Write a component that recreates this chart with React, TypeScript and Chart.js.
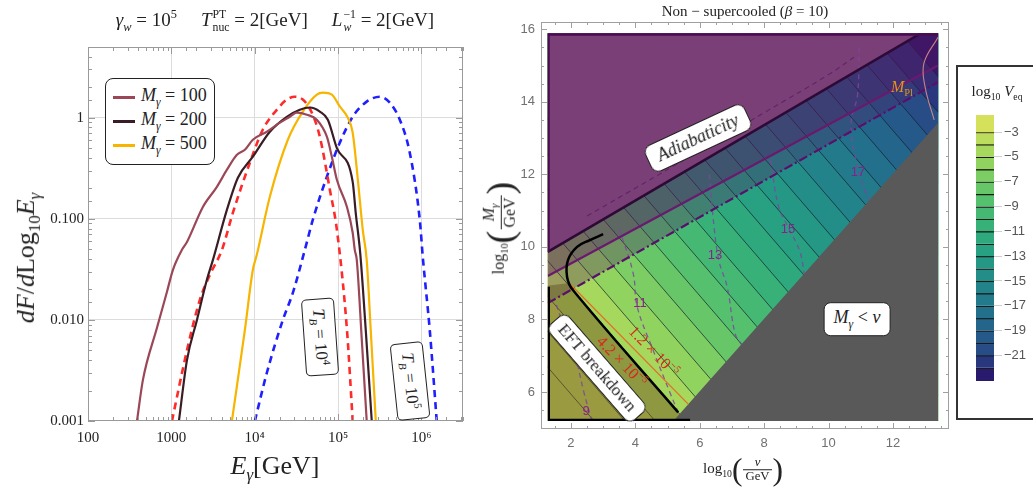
import React, { useEffect, useRef } from "react";
import { Chart, registerables } from "chart.js";

Chart.register(...registerables);

const SERIF = "'Liberation Serif', 'DejaVu Serif', serif";
const SANS = "'Liberation Sans', 'DejaVu Sans', sans-serif";

// ---------------- Left panel: dF/dLog10 E_gamma ----------------
const m100E = [387, 456, 671, 885, 1045, 1340, 1540, 2390, 3520, 4650, 6120, 7630, 9510, 14000, 18450, 26400, 32000, 42300, 55700, 73500, 84300, 96900, 128000, 150000, 159000, 168000, 193000, 221000];
const m100F = [0.001, 0.00255, 0.0083, 0.0189, 0.0313, 0.0493, 0.059, 0.131, 0.207, 0.306, 0.43, 0.482, 0.605, 0.726, 0.853, 1.02, 1.12, 1.07, 0.955, 0.648, 0.411, 0.243, 0.131, 0.0727, 0.049, 0.039, 0.0063, 0.001];

const m200E = [1233, 1540, 2030, 2670, 3150, 4650, 6290, 9510, 15200, 24300, 34800, 45900, 60500, 75500, 96900, 150000, 163000, 185000, 215000, 254000];
const m200F = [0.001, 0.004, 0.01, 0.0249, 0.039, 0.123, 0.255, 0.411, 0.726, 1.02, 1.2, 1.26, 1.15, 0.955, 0.5, 0.232, 0.115, 0.045, 0.008, 0.001];

const m500E = [5330, 7630, 9510, 10600, 15200, 25000, 37800, 55700, 65800, 84300, 105000, 131000, 150000, 173000, 198000, 221000, 247000, 284000];
const m500F = [0.001, 0.00796, 0.0313, 0.044, 0.165, 0.605, 1.15, 1.69, 1.77, 1.69, 1.29, 1.0, 0.71, 0.243, 0.078, 0.039, 0.0079, 0.001];

const tb4E = [1017, 1540, 2200, 2900, 4050, 5480, 8750, 12500, 18500, 24300, 30300, 37800, 48500, 60500, 79800, 96900, 128000, 150000];
const tb4F = [0.001, 0.005, 0.0158, 0.0279, 0.0493, 0.115, 0.358, 0.76, 1.2, 1.51, 1.61, 1.51, 1.12, 0.648, 0.194, 0.078, 0.008, 0.001];

const tb5E = [10050, 14000, 21800, 28700, 40000, 49900, 73500, 105000, 150000, 221000, 317000, 418000, 551000, 726000, 957000, 1040000, 1260000, 1530000];
const tb5F = [0.001, 0.003, 0.01, 0.0185, 0.0493, 0.098, 0.261, 0.565, 1.02, 1.44, 1.61, 1.41, 0.955, 0.45, 0.098, 0.042, 0.008, 0.001];

const xTickExp = [2, 3, 4, 5, 6];
const xTickText = ["100", "1000", "10\u2074", "10\u2075", "10\u2076"];
const yTickExp = [-3, -2, -1, 0];
const yTickText = ["0.001", "0.010", "0.100", "1"];

const legendNames = ["100", "200", "500"];
const colM100 = "#9b4757";
const colM200 = "#3a1d24";
const colM500 = "#f7b500";
const colTB4 = "#ff2a2a";
const colTB5 = "#1f1fff";

// ---------------- Right panel: log10 V_eq contours ----------------
const vRegion = [1.28, 13.4];
const mRegion = [5.2, 15.89];
const contourLevels = [-3, -4, -5, -6, -7, -8, -9, -10, -11, -12, -13, -14, -15, -16, -17, -18, -19, -20, -21, -22];
const contourMAtV0 = [9.95, 10.93, 11.9, 12.88, 13.85, 14.83, 15.8, 16.78, 17.76, 18.73, 19.71, 20.68, 21.66, 22.63, 23.61, 24.59, 25.56, 26.54, 27.51, 28.49];
const contourMAtV15 = [-5.49, -4.51, -3.54, -2.56, -1.59, -0.61, 0.37, 1.34, 2.32, 3.29, 4.27, 5.24, 6.22, 7.2, 8.17, 9.15, 10.12, 11.1, 12.07, 13.05];
const extraLevels = [-1, -2];
const extraMAtV0 = [8.0, 8.98];
const extraMAtV15 = [-7.44, -6.46];
const bandColors = ["#d5e05b", "#bcdc5d", "#a6d85d", "#91d35f", "#7ccd63", "#67c768", "#55c06d", "#45b973", "#38b179", "#2ea97e", "#28a082", "#249785", "#238e88", "#22848a", "#227a8b", "#22708c", "#23658b", "#25598a", "#274c86", "#29387e", "#2a1a6e"];

const adiabaticityRegion = [[1.0, 9.71], [12.87, 15.89], [12.87, 16.5], [1.0, 16.5]];
const adiabaticityEdge = [[1.28, 9.86], [12.87, 15.89]];
const topEdge = [[1.28, 15.89], [13.4, 15.89]];
const leftEdge = [[1.28, 9.86], [1.28, 15.89]];
const mPlLine = [[1.28, 9.2], [13.4, 15.0]];
const dashDotLine = [[1.28, 8.45], [13.4, 14.54]];
const aboveSolid = [[1.0, 9.07], [13.6, 15.1], [13.6, 16.5], [1.0, 16.5]];
const aboveDashDot = [[1.0, 8.31], [13.6, 14.64], [13.6, 16.5], [1.0, 16.5]];
const eftRegion = [[1.0, 5.0], [5.5, 5.0], [5.5, 5.2], [5.33, 5.44], [2.06, 8.81], [1.9, 9.0], [1.0, 8.9]];
const eftBoundary = [[5.33, 5.44], [2.06, 8.81], [1.88, 9.17], [1.91, 9.64], [2.19, 10.0], [2.59, 10.19], [3.0, 10.35]];
const eftFrame = [[1.28, 8.9], [1.28, 5.2], [5.7, 5.2]];
const orangeLine = [[1.95, 9.0], [5.65, 5.66]];
const grayRegion = [[5.18, 5.2], [13.5, 13.52], [13.5, 5.0], [5.0, 5.0]];
const pinkCurve = [[13.4, 15.78], [12.96, 15.06], [13.0, 14.4], [13.28, 13.5]];
const upperDashed = [[2.5, 10.85], [4.06, 11.65], [6.0, 12.65], [8.0, 13.7], [10.0, 14.75], [10.9, 15.3]];
const dashed9 = [[1.55, 8.4], [1.85, 7.6], [2.1, 7.1], [2.4, 6.0], [2.65, 5.2]];
const dashed11 = [[3.5, 10.5], [3.93, 9.28], [4.06, 8.34], [4.55, 7.16], [5.08, 5.97], [5.35, 5.4]];
const dashed13 = [[6.3, 12.0], [6.45, 10.5], [6.6, 9.6], [6.85, 8.9], [7.1, 7.6], [7.3, 7.3]];
const dashed15 = [[8.2, 12.4], [8.45, 11.1], [8.76, 10.52], [9.1, 9.9], [9.25, 9.25]];
const dashed17 = [[10.95, 15.5], [10.9, 14.2], [10.7, 13.4], [10.85, 12.4], [11.15, 11.5], [11.3, 11.3]];

// colorbar
const cbEdges = [-1.63, -3, -4, -5, -6, -7, -8, -9, -10, -11, -12, -13, -14, -15, -16, -17, -18, -19, -20, -21, -22, -23.06];
const cbTicks = [-3, -5, -7, -9, -11, -13, -15, -17, -19, -21];

const pts = (arr: number[][]) => arr.map((p) => ({ x: p[0], y: p[1] }));
const isDecade = (v: number) => Math.abs(Math.log10(v) - Math.round(Math.log10(v))) < 1e-6;

const leftFrame = {
  id: "leftFrame",
  afterDraw(chart: any) {
    const { ctx, chartArea: a, scales } = chart;
    ctx.save();
    ctx.strokeStyle = "#9a9a9a";
    ctx.lineWidth = 1;
    ctx.strokeRect(a.left + 0.5, a.top + 0.5, a.right - a.left - 1, a.bottom - a.top - 1);
    ctx.beginPath();
    for (const t of scales.x.ticks) {
      const p = Math.round(scales.x.getPixelForValue(t.value)) + 0.5;
      const L = isDecade(t.value) ? 7 : 4;
      ctx.moveTo(p, a.bottom); ctx.lineTo(p, a.bottom - L);
      ctx.moveTo(p, a.top); ctx.lineTo(p, a.top + L);
    }
    for (const t of scales.y.ticks) {
      const p = Math.round(scales.y.getPixelForValue(t.value)) + 0.5;
      const L = isDecade(t.value) ? 7 : 4;
      ctx.moveTo(a.left, p); ctx.lineTo(a.left + L, p);
      ctx.moveTo(a.right, p); ctx.lineTo(a.right - L, p);
    }
    ctx.stroke();
    ctx.restore();
  },
};

const rightFrame = {
  id: "rightFrame",
  beforeDatasetsDraw(chart: any) {
    const { ctx, scales } = chart;
    const l = scales.x.getPixelForValue(vRegion[0]);
    const r = scales.x.getPixelForValue(vRegion[1]);
    const t = scales.y.getPixelForValue(mRegion[1]);
    const b = scales.y.getPixelForValue(mRegion[0]);
    ctx.save();
    ctx.beginPath();
    ctx.rect(l, t, r - l, b - t);
    ctx.clip();
  },
  afterDatasetsDraw(chart: any) {
    chart.ctx.restore();
  },
  afterDraw(chart: any) {
    const { ctx, chartArea: a, scales } = chart;
    ctx.save();
    ctx.strokeStyle = "#a0a0a0";
    ctx.lineWidth = 1;
    ctx.strokeRect(a.left + 0.5, a.top + 0.5, a.right - a.left - 1, a.bottom - a.top - 1);
    ctx.beginPath();
    for (let v = 1.5; v <= 13.5; v += 0.5) {
      const p = Math.round(scales.x.getPixelForValue(v)) + 0.5;
      const L = Math.abs(v % 2) < 1e-6 ? 6 : 3;
      ctx.moveTo(p, a.bottom); ctx.lineTo(p, a.bottom - L);
      ctx.moveTo(p, a.top); ctx.lineTo(p, a.top + L);
    }
    for (let v = 5; v <= 16; v += 0.5) {
      const p = Math.round(scales.y.getPixelForValue(v)) + 0.5;
      const L = Math.abs(v % 2) < 1e-6 ? 6 : 3;
      ctx.moveTo(a.left, p); ctx.lineTo(a.left + L, p);
      ctx.moveTo(a.right, p); ctx.lineTo(a.right - L, p);
    }
    ctx.stroke();
    ctx.restore();
  },
};

function leftConfig(): any {
  const line = (E: number[], F: number[], color: string, dash: number[] | null, w: number) => ({
    data: E.map((x, i) => ({ x, y: F[i] })),
    showLine: true,
    borderColor: color,
    borderWidth: w,
    borderDash: dash || [],
    pointRadius: 0,
    pointHoverRadius: 0,
    fill: false,
    cubicInterpolationMode: "monotone",
  });
  return {
    type: "scatter",
    data: {
      datasets: [
        line(m100E, m100F, colM100, null, 2.2),
        line(m200E, m200F, colM200, null, 2.2),
        line(tb4E, tb4F, colTB4, [7, 5], 2.6),
        line(m500E, m500F, colM500, null, 2.2),
        line(tb5E, tb5F, colTB5, [7, 5], 2.6),
      ],
    },
    options: {
      responsive: false,
      animation: false,
      devicePixelRatio: 1,
      events: [],
      layout: { padding: { left: 0, top: 47, right: 12, bottom: 0 } },
      plugins: { legend: { display: false }, tooltip: { enabled: false } },
      scales: {
        x: {
          type: "logarithmic",
          min: 100,
          max: 3.16e6,
          afterFit: (s: any) => { s.height = 74; },
          border: { display: false },
          grid: {
            drawTicks: false,
            color: (c: any) => (c.tick && isDecade(c.tick.value) && c.tick.value > 150 ? "#dcdcdc" : "rgba(0,0,0,0)"),
          },
          ticks: {
            autoSkip: false,
            maxRotation: 0,
            padding: 8,
            color: "#222",
            font: { family: SERIF, size: 15 },
            callback: (v: any) => {
              const e = Math.round(Math.log10(v));
              const i = xTickExp.indexOf(e);
              return isDecade(v) && i >= 0 ? xTickText[i] : "";
            },
          },
        },
        y: {
          type: "logarithmic",
          min: 0.001,
          max: 5,
          afterFit: (s: any) => { s.width = 88; },
          border: { display: false },
          grid: {
            drawTicks: false,
            color: (c: any) => (c.tick && isDecade(c.tick.value) && c.tick.value > 0.0015 ? "#dcdcdc" : "rgba(0,0,0,0)"),
          },
          ticks: {
            autoSkip: false,
            padding: 4,
            color: "#222",
            font: { family: SERIF, size: 15 },
            callback: (v: any) => {
              const e = Math.round(Math.log10(v));
              const i = yTickExp.indexOf(e);
              return isDecade(v) && i >= 0 ? yTickText[i] : "";
            },
          },
        },
      },
    },
    plugins: [leftFrame],
  };
}

function rightConfig(): any {
  const ds: any[] = [];
  const poly = (arr: number[][], fillColor: string, stroke = "rgba(0,0,0,0)", w = 0, dash: number[] = []) => ({
    data: pts(arr),
    showLine: true,
    fill: "shape",
    backgroundColor: fillColor,
    borderColor: stroke,
    borderWidth: w,
    borderDash: dash,
    pointRadius: 0,
    pointHoverRadius: 0,
  });
  const ln = (arr: number[][], stroke: string, w: number, dash: number[] = [], smooth = false) => ({
    data: pts(arr),
    showLine: true,
    fill: false,
    borderColor: stroke,
    borderWidth: w,
    borderDash: dash,
    pointRadius: 0,
    pointHoverRadius: 0,
    tension: smooth ? 0.4 : 0,
  });
  const contourStroke = "rgba(20,30,40,0.7)";
  ds.push(poly([[0, 0], [15, 0], [15, 40], [0, 40]], bandColors[0]));
  extraLevels.forEach((_, i) => {
    ds.push(ln([[0, extraMAtV0[i]], [15, extraMAtV15[i]]], contourStroke, 1));
  });
  contourLevels.forEach((_, i) => {
    ds.push(
      poly(
        [[0, contourMAtV0[i]], [15, contourMAtV15[i]], [15, 40], [0, 40]],
        bandColors[i + 1],
        contourStroke,
        1
      )
    );
  });
  ds.push(poly(aboveDashDot, "rgba(85,20,95,0.3)"));
  ds.push(poly(aboveSolid, "rgba(85,20,95,0.32)"));
  ds.push(poly(eftRegion, "rgba(95,84,37,0.5)"));
  ds.push(poly(adiabaticityRegion, "#7b3f78"));
  ds.push(poly(grayRegion, "#595959"));
  const dashCol = "rgba(125,70,160,0.85)";
  ds.push(ln(upperDashed, "rgba(90,30,100,0.8)", 1.2, [5, 4], true));
  ds.push(ln(dashed9, dashCol, 1.3, [5, 4], true));
  ds.push(ln(dashed11, dashCol, 1.3, [5, 4], true));
  ds.push(ln(dashed13, dashCol, 1.3, [5, 4], true));
  ds.push(ln(dashed15, dashCol, 1.3, [5, 4], true));
  ds.push(ln(dashed17, dashCol, 1.3, [5, 4], true));
  ds.push(ln(dashDotLine, "#5a0f6b", 2.2, [9, 3, 2, 3]));
  ds.push(ln(mPlLine, "#6a1a6e", 2.2));
  ds.push(ln(adiabaticityEdge, "#2d0a36", 2.6));
  ds.push(ln(topEdge, "#4a0c50", 5));
  ds.push(ln(leftEdge, "#4a0c50", 4));
  ds.push(ln(orangeLine, "#e0702a", 1.3));
  ds.push(ln(eftBoundary, "#000", 2.5, [], true));
  ds.push(ln(eftFrame, "#000", 4.5));
  ds.push(ln(pinkCurve, "rgba(215,140,140,0.9)", 1.1, [], true));
  ds.forEach((d, i) => { d.order = -i; });
  return {
    type: "scatter",
    data: { datasets: ds },
    options: {
      responsive: false,
      animation: false,
      devicePixelRatio: 1,
      events: [],
      layout: { padding: { left: 0, top: 22, right: 6, bottom: 0 } },
      plugins: { legend: { display: false }, tooltip: { enabled: false } },
      scales: {
        x: {
          type: "linear",
          min: 1.07,
          max: 13.74,
          afterFit: (s: any) => { s.height = 66; },
          border: { display: false },
          grid: { display: false, drawTicks: false },
          ticks: { stepSize: 2, includeBounds: false, padding: 7, color: "#707070", font: { family: SANS, size: 13 } },
        },
        y: {
          type: "linear",
          min: 4.98,
          max: 16.2,
          afterFit: (s: any) => { s.width = 61; },
          border: { display: false },
          grid: { display: false, drawTicks: false },
          ticks: { stepSize: 2, includeBounds: false, padding: 6, color: "#707070", font: { family: SANS, size: 13 } },
        },
      },
    },
    plugins: [rightFrame],
  };
}

function colorbarConfig(): any {
  const datasets = bandColors.map((c, i) => ({
    data: [[cbEdges[i + 1], cbEdges[i]]],
    backgroundColor: c,
    borderColor: "#1b1b1b",
    borderWidth: i === 0 ? 0 : { top: 1.5, bottom: 0, left: 0, right: 0 },
    borderSkipped: false,
    grouped: false,
    barPercentage: 1,
    categoryPercentage: 1,
  }));
  return {
    type: "bar",
    data: { labels: [""], datasets },
    options: {
      responsive: false,
      animation: false,
      devicePixelRatio: 1,
      events: [],
      layout: { padding: { left: 16, top: 15, right: 0, bottom: 19 } },
      plugins: { legend: { display: false }, tooltip: { enabled: false } },
      scales: {
        x: { display: false },
        y: {
          position: "right",
          min: cbEdges[cbEdges.length - 1],
          max: cbEdges[0],
          afterBuildTicks: (s: any) => { s.ticks = cbTicks.map((v) => ({ value: v })); },
          afterFit: (s: any) => { s.width = 39; },
          border: { display: false },
          grid: { drawOnChartArea: false, drawTicks: true, tickLength: 8, color: "#cfcfcf" },
          ticks: {
            padding: 2,
            color: "#555",
            font: { family: SANS, size: 13 },
            callback: (v: any) => "\u2212" + Math.abs(v),
          },
        },
      },
    },
  };
}

const SS = ({ sup, sub }: { sup?: any; sub?: any }) => (
  <span
    style={{
      display: "inline-flex",
      flexDirection: "column",
      verticalAlign: "0.6em",
      fontSize: "0.62em",
      lineHeight: 1.05,
      marginLeft: 1,
      textAlign: "left",
    }}
  >
    <span>{sup ?? "\u00a0"}</span>
    <span>{sub ?? "\u00a0"}</span>
  </span>
);

const Frac = ({ num, den, size = "0.85em" }: { num: any; den: any; size?: string }) => (
  <span
    style={{
      display: "inline-flex",
      flexDirection: "column",
      alignItems: "center",
      verticalAlign: "middle",
      lineHeight: 1.05,
      margin: "0 1px",
    }}
  >
    <span style={{ fontSize: size, padding: "0 2px" }}>{num}</span>
    <span style={{ borderTop: "1px solid #222", fontSize: size, padding: "0 2px" }}>{den}</span>
  </span>
);

const Paren = ({ ch, size = "2.1em" }: { ch: string; size?: string }) => (
  <span style={{ fontSize: size, verticalAlign: "middle", lineHeight: 1, fontWeight: 300 }}>{ch}</span>
);

const At = ({ x, y, r = 0, style, children }: any) => (
  <div
    style={{
      position: "absolute",
      left: x,
      top: y,
      transform: `translate(-50%,-50%) rotate(${r}deg)`,
      whiteSpace: "nowrap",
      fontFamily: SERIF,
      color: "#222",
      ...style,
    }}
  >
    {children}
  </div>
);

const boxStyle = {
  background: "#fff",
  border: "1.5px solid #222",
  borderRadius: 7,
  padding: "2px 8px",
};

const sub = (c: any) => <sub style={{ fontSize: "0.65em" }}>{c}</sub>;
const sup = (c: any) => <sup style={{ fontSize: "0.65em" }}>{c}</sup>;

export default function App() {
  const leftRef = useRef<HTMLCanvasElement>(null);
  const rightRef = useRef<HTMLCanvasElement>(null);
  const cbRef = useRef<HTMLCanvasElement>(null);

  useEffect(() => {
    const c1 = new Chart(leftRef.current as any, leftConfig());
    const c2 = new Chart(rightRef.current as any, rightConfig());
    const c3 = new Chart(cbRef.current as any, colorbarConfig());
    return () => {
      c1.destroy();
      c2.destroy();
      c3.destroy();
    };
  }, []);

  const legendCols = [colM100, colM200, colM500];

  return (
    <div
      style={{
        position: "absolute",
        left: 0,
        top: 0,
        width: 1033,
        height: 495,
        overflow: "hidden",
        background: "#fff",
      }}
    >
      <canvas ref={leftRef} width={475} height={495} style={{ position: "absolute", left: 0, top: 0 }} />
      <canvas ref={rightRef} width={475} height={495} style={{ position: "absolute", left: 480, top: 0 }} />
      <canvas ref={cbRef} width={73} height={300} style={{ position: "absolute", left: 960, top: 100 }} />

      {/* ---------- left panel text ---------- */}
      <At x={275} y={21} style={{ fontSize: 19 }}>
        <i>γ</i>
        {sub(<i>w</i>)} = 10{sup("5")}
        <span style={{ display: "inline-block", width: 24 }} />
        <i>T</i>
        <SS sup="PT" sub="nuc" /> = 2[GeV]
        <span style={{ display: "inline-block", width: 24 }} />
        <i>L</i>
        <SS sup="−1" sub={<i>w</i>} /> = 2[GeV]
      </At>
      <At x={28} y={258} r={-90} style={{ fontSize: 26 }}>
        <i>dF</i>/<i>d</i>Log{sub("10")}
        <i>E</i>
        {sub(<i>γ</i>)}
      </At>
      <At x={275} y={468} style={{ fontSize: 26 }}>
        <i>E</i>
        {sub(<i>γ</i>)}[GeV]
      </At>

      <div
        style={{
          position: "absolute",
          left: 105,
          top: 78,
          width: 110,
          height: 87,
          boxSizing: "border-box",
          border: "1.5px solid #222",
          borderRadius: 8,
          background: "#fff",
        }}
      />
      {legendNames.map((n, i) => (
        <React.Fragment key={n}>
          <div
            style={{
              position: "absolute",
              left: 113,
              top: 96 + i * 24,
              width: 22,
              height: 2.5,
              background: legendCols[i],
            }}
          />
          <div
            style={{
              position: "absolute",
              left: 141,
              top: 85 + i * 24,
              fontFamily: SERIF,
              fontSize: 18,
              whiteSpace: "nowrap",
              color: "#222",
            }}
          >
            <i>M</i>
            {sub(<i>γ</i>)} = {n}
          </div>
        </React.Fragment>
      ))}

      <At x={320} y={337} r={86} style={{ ...boxStyle, fontSize: 17, padding: "4px 9px", borderRadius: 5 }}>
        <i>T</i>
        {sub(<i>B</i>)} = 10{sup("4")}
      </At>
      <At x={410} y={381} r={84} style={{ ...boxStyle, fontSize: 17, padding: "4px 9px", borderRadius: 5 }}>
        <i>T</i>
        {sub(<i>B</i>)} = 10{sup("5")}
      </At>

      {/* ---------- right panel text ---------- */}
      <At x={745} y={11} style={{ fontSize: 15 }}>
        Non − supercooled (<i>β</i> = 10)
      </At>
      <At x={500} y={228} r={-90} style={{ fontSize: 16 }}>
        log{sub("10")}
        <Paren ch="(" size="2.4em" />
        <Frac size="1em" num={<span><i>M</i><sub style={{ fontSize: "0.7em" }}><i>γ</i></sub></span>} den="GeV" />
        <Paren ch=")" size="2.4em" />
      </At>
      <At x={743} y={470} style={{ fontSize: 15 }}>
        log{sub("10")}
        <Paren ch="(" />
        <Frac num={<i>v</i>} den="GeV" />
        <Paren ch=")" />
      </At>

      <At x={698} y={138} r={-25} style={{ ...boxStyle, fontSize: 18, padding: "3px 10px", borderRadius: 8 }}>
        <i>Adiabaticity</i>
      </At>
      <At x={597} y={368} r={49} style={{ ...boxStyle, fontSize: 17, padding: "2px 8px", borderRadius: 8 }}>
        EFT breakdown
      </At>
      <At x={857} y={319} style={{ ...boxStyle, fontSize: 18, padding: "4px 9px", borderRadius: 7 }}>
        <i>M</i>
        {sub(<i>γ</i>)} &lt; <i>v</i>
      </At>
      <At x={654} y={351} r={46} style={{ fontSize: 16, color: "#d62a1d" }}>
        1.2 × 10{sup("−5")}
      </At>
      <At x={622} y={361} r={46} style={{ fontSize: 16, color: "#d62a1d" }}>
        4.2 × 10{sup("−5")}
      </At>
      <At x={902} y={88} style={{ fontSize: 16, color: "#e0961a" }}>
        <i>M</i>
        {sub("Pl")}
      </At>
      {[
        ["9", 586, 410],
        ["11", 640, 302],
        ["13", 715, 254],
        ["15", 788, 228],
        ["17", 858, 171],
      ].map(([t, x, y]) => (
        <At key={t as string} x={x} y={y} style={{ fontFamily: SANS, fontSize: 13, color: "#8a2090" }}>
          {t}
        </At>
      ))}

      {/* ---------- colorbar box ---------- */}
      <div
        style={{
          position: "absolute",
          left: 956,
          top: 65,
          width: 100,
          height: 355,
          boxSizing: "border-box",
          border: "2px solid #333",
          background: "transparent",
        }}
      />
      <At x={997} y={92} style={{ fontSize: 15 }}>
        log{sub("10")} <i>V</i>
        {sub("eq")}
      </At>
    </div>
  );
}
